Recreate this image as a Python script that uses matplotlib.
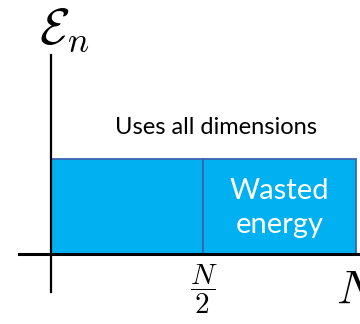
import matplotlib.pyplot as plt

plt.rcParams['mathtext.fontset'] = 'cm'

# energy per dimension, first half of the dimensions vs. the second half
segments = ['used', 'wasted']
seg_start = [0.0, 0.5]
seg_width = [0.5, 0.5]
energy = [1.0, 1.0]

caption = 'Uses all dimensions'
wasted_label = 'Wasted\nenergy'
half_tick = r'$\dfrac{N}{2}$'

fig = plt.figure(figsize=(3.6, 3.24), dpi=100)
ax = fig.add_axes([0, 0, 1, 1])
ax.set_xlim(-0.167, 1.013)
ax.set_ylim(-0.737, 2.674)
ax.axis('off')

ax.bar(seg_start, energy, width=seg_width, align='edge',
       color='#00B0F0', edgecolor='#3C64B0', linewidth=1.3, zorder=2)

# axes drawn by hand, like a sketch
ax.plot([0, 0], [-0.40, 2.095], color='black', lw=1.6, zorder=3)
ax.plot([-0.105, 1.02], [0, 0], color='black', lw=2.2, zorder=3)

ax.text(-0.04, 2.36, r'$\mathcal{E}_n$', fontsize=36, ha='left', va='center')
ax.text(0.54, 1.33, caption, fontsize=17, family='Lato', ha='center', va='center')
ax.text(0.75, 0.48, wasted_label, fontsize=21, family='Lato', color='white',
        ha='center', va='center', linespacing=1.38)
ax.text(seg_start[1], -0.37, half_tick, fontsize=21, ha='center', va='center')
ax.text(0.935, -0.38, r'$N$', fontsize=34, ha='left', va='center')

fig.savefig('out.png', dpi=100)
